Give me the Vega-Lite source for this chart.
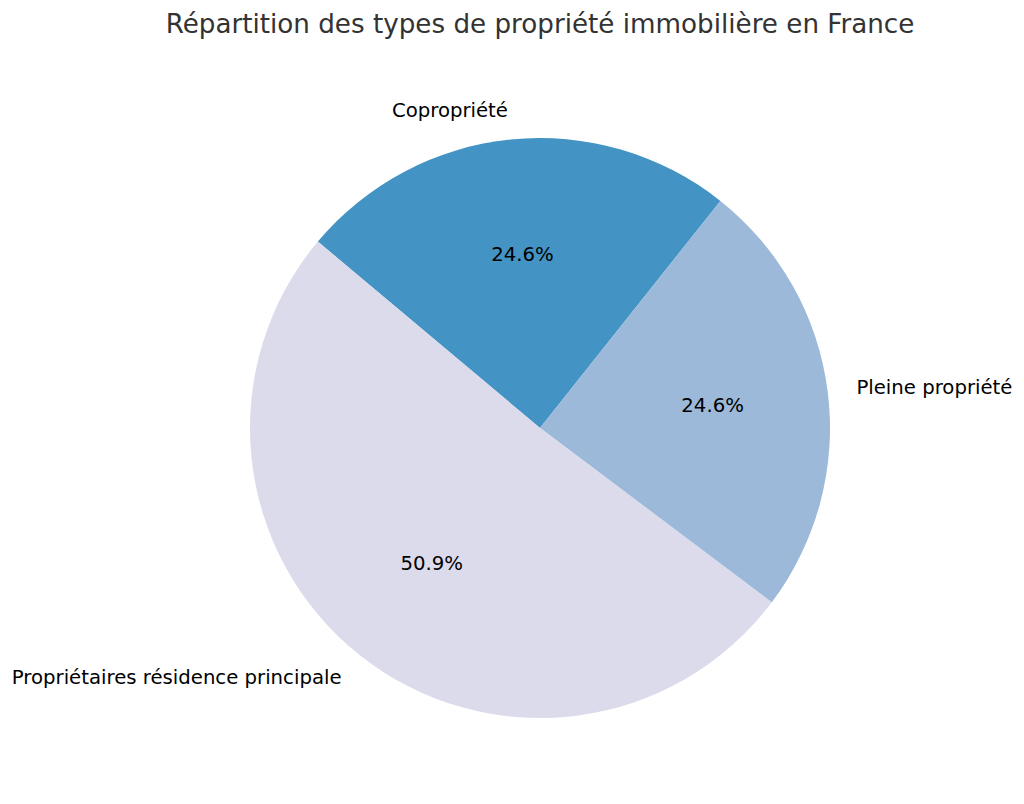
{
  "$schema": "https://vega.github.io/schema/vega-lite/v6.json",
  "background": "white",
  "autosize": {"type": "none"},
  "padding": {"left": 56, "top": 52, "right": 0, "bottom": 0},
  "width": 968,
  "height": 752,
  "title": {
    "text": "Répartition des types de propriété immobilière en France",
    "font": "DejaVu Sans",
    "fontSize": 26.2,
    "fontWeight": "normal",
    "color": "#333333",
    "anchor": "middle",
    "offset": 14
  },
  "config": {"view": {"stroke": null}},
  "data": {
    "values": [
      {"type": "Copropriété", "part": 0.246},
      {"type": "Pleine propriété", "part": 0.246},
      {"type": "Propriétaires résidence principale", "part": 0.509}
    ]
  },
  "encoding": {
    "theta": {"field": "part", "type": "quantitative", "stack": true,
      "scale": {"range": [5.4105, 11.6937]}},
    "order": {"field": "type", "type": "nominal", "sort": "ascending"}
  },
  "layer": [
    {
      "mark": {"type": "arc", "radius": 290},
      "encoding": {
        "color": {"field": "type", "type": "nominal", "legend": null,
          "scale": {
            "domain": ["Copropriété", "Pleine propriété", "Propriétaires résidence principale"],
            "range": ["#4394c4", "#9cb9d9", "#dcdbeb"]
          }}
      }
    },
    {
      "mark": {"type": "text", "radius": 174, "font": "DejaVu Sans", "fontSize": 19.7,
        "color": "black", "baseline": "middle", "align": "center"},
      "encoding": {"text": {"field": "part", "type": "quantitative", "format": ".1%"}}
    },
    {
      "mark": {"type": "text", "radius": 319, "font": "DejaVu Sans", "fontSize": 19.7,
        "color": "black", "baseline": "middle", "align": "right"},
      "encoding": {"text": {"condition": {"test": "datum.type !== 'Pleine propriété'", "field": "type"}, "value": ""}}
    },
    {
      "mark": {"type": "text", "radius": 319, "font": "DejaVu Sans", "fontSize": 19.7,
        "color": "black", "baseline": "middle", "align": "left"},
      "encoding": {"text": {"condition": {"test": "datum.type === 'Pleine propriété'", "field": "type"}, "value": ""}}
    }
  ]
}
